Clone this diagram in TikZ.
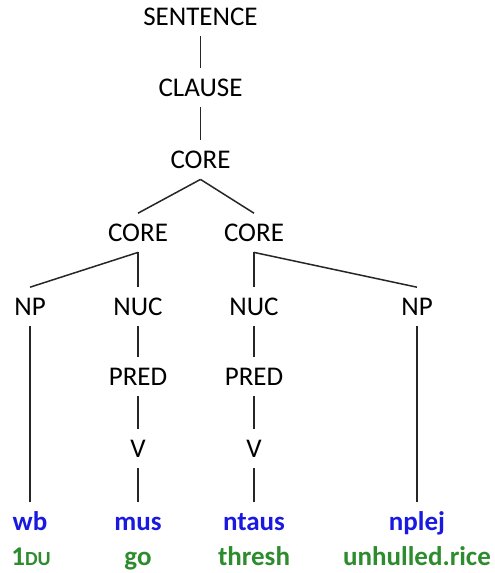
\documentclass[tikz,border=0pt]{standalone}
\usepackage{fontspec}
\setmainfont{Carlito}
\definecolor{wordblue}{RGB}{25,25,225}
\definecolor{glossgreen}{RGB}{45,140,45}
\begin{document}
\begin{tikzpicture}[x=0.5pt,y=-0.5pt,
  lbl/.style={font=\fontsize{13.5}{16}\selectfont, anchor=base,
    text height=8.7pt, text depth=0pt, inner xsep=2pt, inner ysep=5.25pt},
  word/.style={lbl, font=\fontsize{13.5}{16}\selectfont\bfseries, text=wordblue},
  gloss/.style={lbl, font=\fontsize{13.5}{16}\selectfont\bfseries, text=glossgreen},
  edge/.style={line width=0.75pt, draw=black!85}]
\useasboundingbox (0,0) rectangle (494,573);

% clause levels
\node[lbl] (sent)  at (200.5,25.5)  {SENTENCE};
\node[lbl] (cl)    at (200.5,96.5)  {CLAUSE};
\node[lbl] (core)  at (200.5,168.5) {CORE};
\node[lbl] (coreL) at (138,241.5) {CORE};
\node[lbl] (coreR) at (254,241.5) {CORE};

% arguments and nuclei
\node[lbl] (npL)  at (30,315.5)  {NP};
\node[lbl] (nucL) at (138,315.5) {NUC};
\node[lbl] (nucR) at (254,315.5) {NUC};
\node[lbl] (npR)  at (417,315.5) {NP};

\node[lbl] (predL) at (138,385.5) {PRED};
\node[lbl] (predR) at (254,385.5) {PRED};
\node[lbl] (vL)    at (138,457.5) {V};
\node[lbl] (vR)    at (254,457.5) {V};

% words
\node[word] (w1) at (30,530)  {wb};
\node[word] (w2) at (138,530) {mus};
\node[word] (w3) at (254,530) {ntaus};
\node[word] (w4) at (417,530) {nplej};

% glosses
\node[gloss] (g1) at (31,565)  {1{\fontsize{10}{12}\selectfont DU}};
\node[gloss] (g2) at (138,565) {go};
\node[gloss] (g3) at (254,565) {thresh};
\node[gloss] (g4) at (417,565) {unhulled.rice};

% branches
\draw[edge] (sent.south) -- (cl.north);
\draw[edge] (cl.south) -- (core.north);
\draw[edge] (core.south) -- (coreL.north);
\draw[edge] (core.south) -- (coreR.north);
\draw[edge] (coreL.south) -- (npL.north);
\draw[edge] (coreL.south) -- (nucL.north);
\draw[edge] (coreR.south) -- (nucR.north);
\draw[edge] (coreR.south) -- (npR.north);
\draw[edge] (npL.south) -- (w1.north);
\draw[edge] (nucL.south) -- (predL.north);
\draw[edge] (predL.south) -- (vL.north);
\draw[edge] (vL.south) -- (w2.north);
\draw[edge] (nucR.south) -- (predR.north);
\draw[edge] (predR.south) -- (vR.north);
\draw[edge] (vR.south) -- (w3.north);
\draw[edge] (npR.south) -- (w4.north);
\end{tikzpicture}
\end{document}
